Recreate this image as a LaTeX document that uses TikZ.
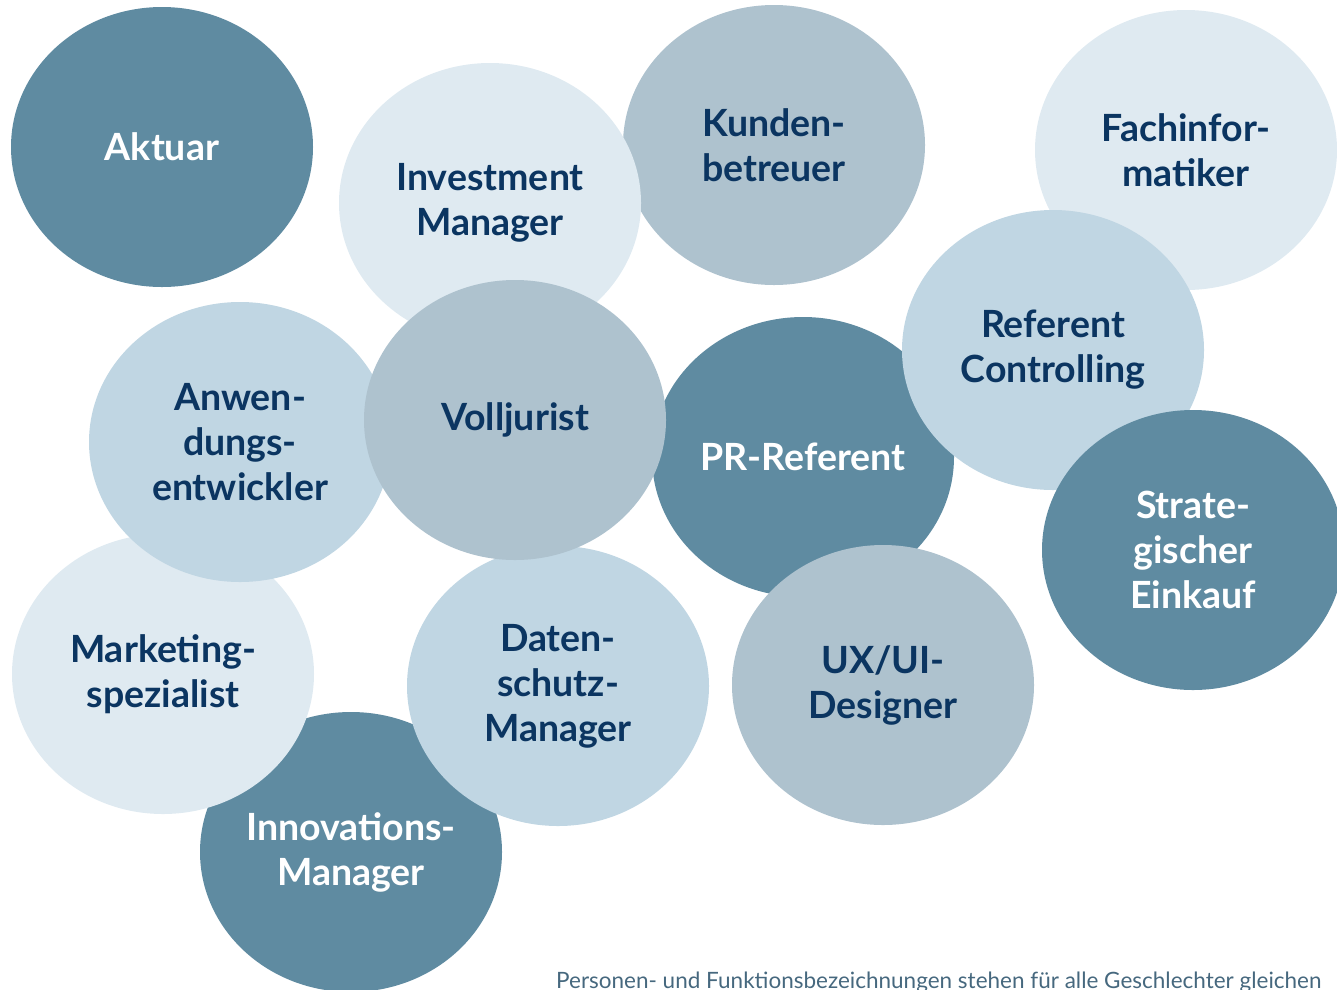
\documentclass[tikz,border=0pt]{standalone}
\usepackage{fontspec}
\setmainfont{Lato}
\usetikzlibrary{shapes.geometric}

\definecolor{dark}{HTML}{5F8BA1}
\definecolor{mid}{HTML}{AEC2CE}
\definecolor{light}{HTML}{C0D6E3}
\definecolor{pale}{HTML}{DFEAF1}
\definecolor{navy}{HTML}{0B3561}
\definecolor{note}{HTML}{46687E}

\begin{document}
\begin{tikzpicture}[
    x = 1pt, y = -1pt,
    bubble/.style = {ellipse, minimum width = 302pt, minimum height = 280pt,
        inner sep = 0pt, align = center, text = navy,
        font = \fontsize{37.5}{45}\selectfont\bfseries},
    darkbubble/.style = {bubble, fill = dark, text = white},
    midbubble/.style = {bubble, fill = mid},
    lightbubble/.style = {bubble, fill = light},
    palebubble/.style = {bubble, fill = pale}]

\useasboundingbox (0,0) rectangle (1337,989);

% back row first, then the ones lying on top
\node[darkbubble]  (aktuar)  at (162,147)  {Aktuar};
\node[midbubble]   (kunden)  at (774,145)  {Kunden-\\betreuer};
\node[palebubble]  (invest)  at (490,203)  {Investment\\Manager};
\node[palebubble]  (fachinf) at (1186,150) {Fachinfor-\\matiker};
\node[darkbubble]  (pr)      at (803,457)  {PR-Referent};
\node[lightbubble] (refctrl) at (1053,350) {Referent\\Controlling};
\node[darkbubble]  (einkauf) at (1193,550) {Strate-\\gischer\\Einkauf};
\node[darkbubble]  (innov)   at (351,852)  {Innovations-\\Manager};
\node[palebubble]  (market)  at (163,674)  {Marketing-\\spezialist};
\node[lightbubble] (anwend)  at (240,442)  {Anwen-\\dungs-\\entwickler};
\node[lightbubble] (daten)   at (558,686)  {Daten-\\schutz-\\Manager};
\node[midbubble]   (jurist)  at (515,420)  {Volljurist};
\node[midbubble]   (uxui)    at (883,685)  {UX/UI-\\Designer};

\node[anchor = base west, inner sep = 0pt, text = note,
      font = \fontsize{22.5}{26}\selectfont] (hinweis) at (556,988)
    {Personen- und Funktionsbezeichnungen stehen für alle Geschlechter gleichen};
\end{tikzpicture}
\end{document}
